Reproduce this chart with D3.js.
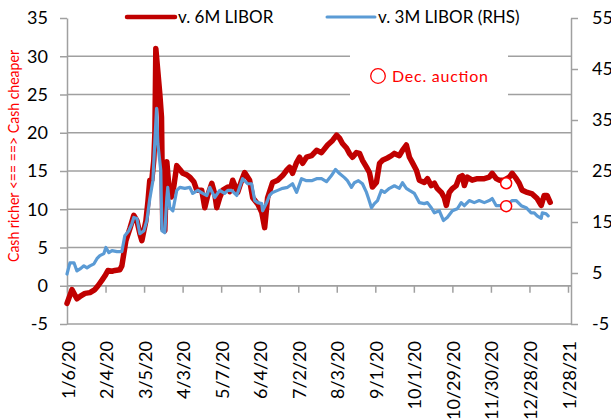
<!DOCTYPE html>
<html><head><meta charset="utf-8">
<script src="https://cdn.jsdelivr.net/npm/d3@7"></script>
<style>body{margin:0;background:#fff} text{font-family:Lato,"Open Sans",sans-serif}</style>
</head><body><svg id="c" width="611" height="419"></svg>
<script>
const tickLabels=["1/6/20","2/4/20","3/5/20","4/3/20","5/7/20","6/4/20","7/2/20","8/3/20","9/1/20","10/1/20","10/29/20","11/30/20","12/28/20","1/28/21"];
const tickStep=21; // business days between labels
const leftTicks=[35,30,25,20,15,10,5,0,-5];
const rightTicks=[55,45,35,25,15,5,-5];

// v. 6M LIBOR (left axis): business-day position, value
const sixMPos=[0,2.7,5.4,7.1,9.8,12.5,15.2,16.9,19,20.7,22.3,24.5,26.1,28.8,29.9,32.1,34.3,36.4,38.1,39.7,40.8,41.9,43,44.1,45.1,46.2,47.3,47.9,48.4,49.5,50.6,51.5,52.2,53.3,54.4,55.5,56.9,58.2,59.8,61.5,63.1,65.3,66.9,69.1,70.7,73.4,75.1,76.7,78.9,80.5,81.6,83.2,84.9,87.6,88.7,90.3,93,95.2,96.8,99.5,101.2,103.9,106.1,107.7,109.3,112,114.8,117.5,119.7,121.3,122.9,125.1,126.7,128.4,130.5,133.3,136,138.7,142,144.7,146.9,148.5,150.1,152.3,153.9,155.6,157.7,159.4,161,163.2,164.8,166.4,168.6,170.3,171.9,174.6,176.8,178.4,181.1,182.8,184.9,186.6,188.2,190.4,192,194.7,196.4,198.5,200.2,201.8,204,205.6,206.7,208.3,210,212.1,213.8,215.4,216.5,218.1,220.8,223.6,226.3,227.4,230.1,231.7,233.9,235.5,238.2,241,242.6,244.8,246.4,248,250.8,253.5,256.2,258.4,260,261.6,263.3];
const sixMVal=[-2.3,-0.5,-1.7,-1.4,-1.0,-0.9,-0.5,0,0.7,1.3,2.0,1.9,2.0,2.1,2.6,5.9,7.5,9.2,8.5,6.8,5.9,7.2,8.5,11,13.8,13.8,16.4,20,31,28,25,22,7.5,7.2,16.2,13,11.6,13,15.7,15.2,14.7,14.5,14.2,13.6,12.5,12.5,10.2,11.8,13.4,12,10.2,11.5,12.5,12.9,12.3,13.8,12.2,13.8,14.8,13.8,11.5,10.7,9.6,7.6,11.5,13.5,13.8,14.4,15.1,15.5,14.7,16.1,16.8,16,16.8,17,17.7,17.4,18.4,19,19.7,19.3,18.6,18,17.3,16.8,17.4,17.3,16.4,15.5,14.8,12.9,13.5,16,16.4,16.7,17,17.3,17.0,17.7,18.4,16.8,16.1,15.1,13.8,13.5,14,13.1,13.4,12.7,12.2,11.5,10.5,12.2,12.7,13.1,14.2,14.4,13.1,14.2,13.8,14,14,14,14.2,14.7,14,13.8,13.8,14.2,14.7,14,13.4,12.5,12.2,12,11.4,10.5,11.8,11.8,10.9];

// v. 3M LIBOR (right axis): business-day position, value
const threeMPos=[0,1.6,3.8,5.4,7.1,9.2,10.9,12.5,14.7,16.3,17.9,20.1,21.2,22.8,24.5,27.2,29.9,31.5,33.7,35.4,36.4,38.1,39.7,41.9,43.5,45.1,46.8,47.9,48.8,49.5,51.1,51.7,53.3,54.4,54.9,56,57.7,59.8,61.5,64.2,66.9,68.5,71.3,74,76.2,77.8,80.5,83.2,85.9,87.6,89.7,92.5,95.7,98.4,100.6,102.3,103.9,106.1,106.6,108.8,110.4,112,114.8,117.5,120.2,122.9,125.1,127.8,130.5,133.3,136,138.7,141.4,144.1,146.3,148.5,151.2,152.8,155,156.6,158.8,161,163.2,164.3,165.9,167.5,169.2,171.3,173,175.7,178.4,181.1,182.8,184.9,186.6,189.3,192,194.7,196.4,198.5,200.2,202.9,205.1,207.2,210,212.7,214.8,216.5,219.2,221.9,224.6,227.4,230.1,231.7,233.9,236.6,239.3,242.6,244.8,247.5,250.2,252.9,254.6,256.2,258.4,259,261.1,262.2];
const threeMVal=[4.8,7,7,5.4,5.8,6.4,6.0,6.4,6.8,7.8,8.4,8.8,10,9,9.4,9.2,9.2,12.3,13.3,14.7,15.9,15.7,12.7,13.3,15.3,19.5,23.1,31,37.3,30.4,25.1,13.3,12.9,19.8,21.8,17.8,17.2,21.2,21.8,21.6,21.8,20.6,21.2,20.6,20.2,21.8,19.8,21.2,20.6,21.2,21.2,20.2,23.5,22.5,22.5,19.2,18.8,18.6,17.2,18.8,20.2,20.8,21.2,21.6,21.8,22.5,20.8,23.5,23.1,23.1,23.5,23.5,22.9,24.1,25.3,24.5,23.7,23.1,21.8,22.7,23.1,22.5,20.8,19.6,17.8,18.6,19.2,21.2,20.8,21.6,22.1,21.6,22.7,21.6,21.2,20.6,18.8,18.6,18.8,17.8,16.8,17.2,15.3,15.9,17.2,17.6,18.8,18.2,19.2,18.8,19.2,18.8,19.2,19.6,18.2,18.2,18.2,19.2,19.2,18.2,17.8,16.8,16.8,16.2,15.7,16.8,16.6,16.2];

// Dec. auction markers
const auctionPos=239.3, auctionSixM=13.4, auctionThreeM=18.1;

const svg=d3.select("#c");
const x=d3.scaleLinear().domain([0,(tickLabels.length-1)*tickStep]).range([67,568]);
const yL=d3.scaleLinear().domain([-5,35]).range([324,18]);
const yR=d3.scaleLinear().domain([-5,55]).range([324,18]);
const xLeft=67, xRight=571;
const gray="#a0a0a0";
const fmt=d=>String(d);

// gridlines
svg.append("g").selectAll("line").data(leftTicks.filter(d=>d<35)).join("line")
 .attr("x1",xLeft).attr("x2",xRight).attr("y1",d=>yL(d)).attr("y2",d=>yL(d))
 .attr("stroke",gray).attr("stroke-width",1.5);

// left axis
const gl=svg.append("g").attr("transform",`translate(${xLeft},0)`)
 .call(d3.axisLeft(yL).tickValues(leftTicks).tickFormat(fmt).tickSize(7).tickSizeOuter(0).tickPadding(12));
gl.select(".domain").attr("stroke",gray).attr("stroke-width",1.5);
gl.selectAll(".tick line").attr("stroke",gray).attr("stroke-width",1.5);
gl.selectAll("text").attr("font-size",18).attr("fill","#000").attr("font-family","Lato,sans-serif");

// right axis
const gr=svg.append("g").attr("transform",`translate(${xRight},0)`)
 .call(d3.axisRight(yR).tickValues(rightTicks).tickFormat(fmt).tickSize(7).tickSizeOuter(0).tickPadding(14));
gr.select(".domain").attr("stroke",gray).attr("stroke-width",1.5);
gr.selectAll(".tick line").attr("stroke",gray).attr("stroke-width",1.5);
gr.selectAll("text").attr("font-size",18).attr("fill","#000").attr("font-family","Lato,sans-serif");

// x axis at zero
const tickPos=tickLabels.map((d,i)=>i*tickStep);
const gx=svg.append("g").attr("transform",`translate(0,${yL(0)})`)
 .call(d3.axisBottom(x).tickValues(tickPos).tickFormat((d,i)=>tickLabels[i]).tickSize(7).tickSizeOuter(0));
gx.select(".domain").remove();
gx.selectAll(".tick line").attr("stroke",gray).attr("stroke-width",1.5);
gx.selectAll("text").attr("font-size",18).attr("fill","#000").attr("font-family","Lato,sans-serif")
 .attr("text-anchor","end").attr("dy",null).attr("y",null)
 .attr("transform",`translate(7,${341-yL(0)}) rotate(-90)`);
svg.append("line").attr("x1",xLeft).attr("x2",xRight).attr("y1",yL(0)).attr("y2",yL(0))
 .attr("stroke",gray).attr("stroke-width",1.5);

// y-axis title
svg.append("text").attr("transform","translate(19,156) rotate(-90)").attr("text-anchor","middle")
 .attr("fill","#ff0000").attr("font-size",15).attr("textLength",212).attr("lengthAdjust","spacingAndGlyphs")
 .text("Cash richer <== ==> Cash cheaper");

// series
const lineL=d3.line().x(d=>x(d[0])).y(d=>yL(d[1])).curve(d3.curveLinear);
const lineR=d3.line().x(d=>x(d[0])).y(d=>yR(d[1])).curve(d3.curveLinear);
svg.append("path").datum(d3.zip(sixMPos,sixMVal)).attr("d",lineL)
 .attr("fill","none").attr("stroke","#c00000").attr("stroke-width",5.5).attr("stroke-linejoin","round").attr("stroke-linecap","round");
svg.append("path").datum(d3.zip(threeMPos,threeMVal)).attr("d",lineR)
 .attr("fill","none").attr("stroke","#5b9bd5").attr("stroke-width",3.2).attr("stroke-linejoin","round").attr("stroke-linecap","round");

// auction markers
svg.append("circle").attr("cx",x(auctionPos)).attr("cy",yL(auctionSixM)).attr("r",5.5)
 .attr("fill","#fff").attr("stroke","#ff0000").attr("stroke-width",1.5);
svg.append("circle").attr("cx",x(auctionPos)).attr("cy",yR(auctionThreeM)).attr("r",5.5)
 .attr("fill","#fff").attr("stroke","#ff0000").attr("stroke-width",1.5);

// Dec. auction label box
svg.append("rect").attr("x",350).attr("y",54).attr("width",158).attr("height",42).attr("fill","#fff");
svg.append("circle").attr("cx",378).attr("cy",76).attr("r",7.3).attr("fill","#fff").attr("stroke","#ff0000").attr("stroke-width",1.3);
svg.append("text").attr("x",392).attr("y",82).attr("fill","#ff0000").attr("font-size",16)
 .attr("textLength",96).attr("lengthAdjust","spacing").text("Dec. auction");

// legend
svg.append("line").attr("x1",127).attr("x2",175).attr("y1",17).attr("y2",17).attr("stroke","#c00000").attr("stroke-width",4.5).attr("stroke-linecap","round");
svg.append("text").attr("x",178).attr("y",23).attr("font-size",17).attr("fill","#000").text("v. 6M LIBOR");
svg.append("line").attr("x1",327).attr("x2",375).attr("y1",17).attr("y2",17).attr("stroke","#5b9bd5").attr("stroke-width",3).attr("stroke-linecap","round");
svg.append("text").attr("x",378).attr("y",23).attr("font-size",17).attr("fill","#000").text("v. 3M LIBOR (RHS)");
</script></body></html>
